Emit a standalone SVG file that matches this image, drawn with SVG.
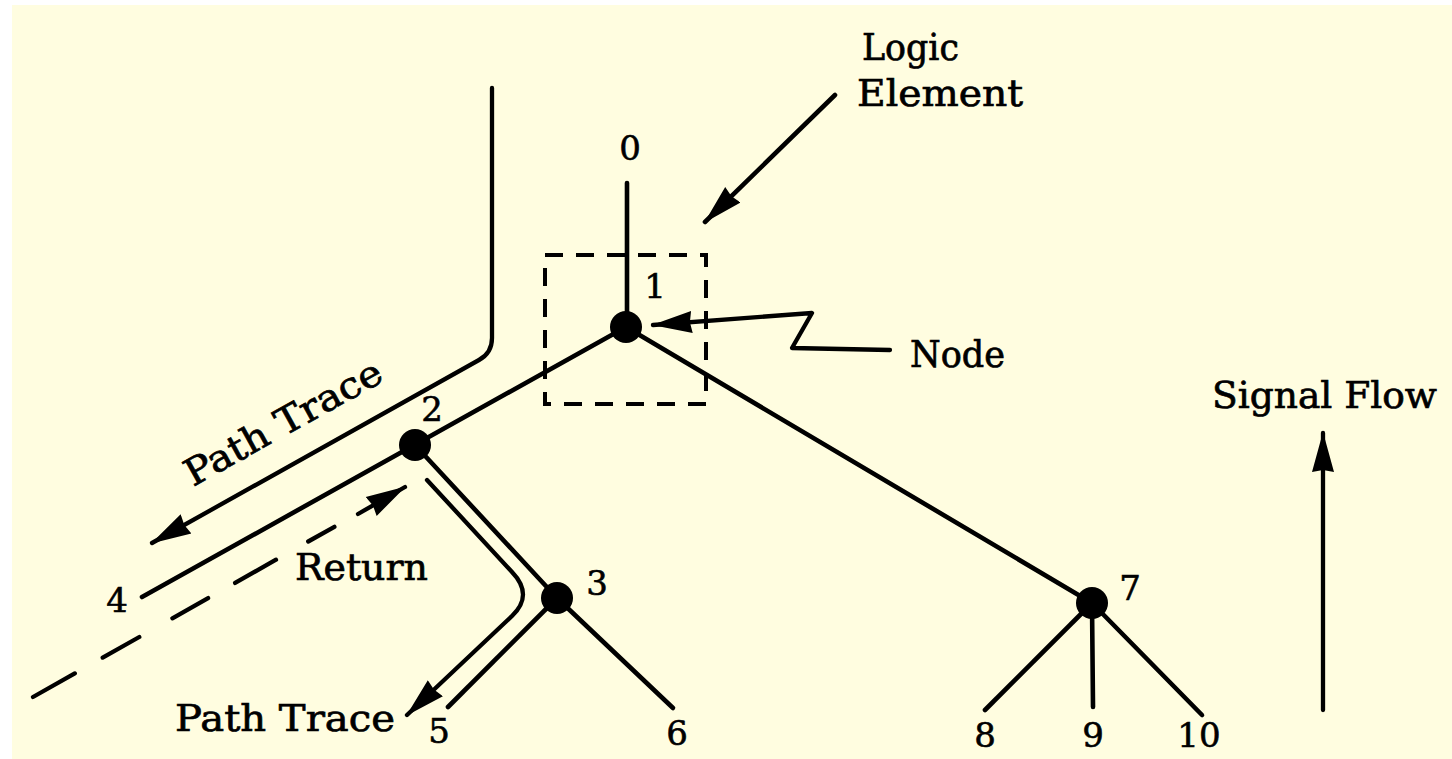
<svg xmlns="http://www.w3.org/2000/svg" width="1452" height="759" viewBox="0 0 1452 759">
<style>
  .ln { fill: none; stroke: #000; stroke-width: 4.6; stroke-linecap: round; stroke-linejoin: round; }
  .thin { stroke-width: 4.3; }
  .box { fill: none; stroke: #000; stroke-width: 4; stroke-dasharray: 18 13; }
  .nd { fill: #000; }
  .t { font-family: "DejaVu Serif", "Liberation Serif", serif; font-size: 37px; fill: #000; stroke: #000; stroke-width: 0.7; }
  .n { font-family: "DejaVu Serif", "Liberation Serif", serif; font-size: 34px; fill: #000; stroke: #000; stroke-width: 0.6; text-anchor: middle; }
</style>
<defs>
  <marker id="ah" viewBox="0 0 40 24" refX="39" refY="12" markerWidth="40" markerHeight="24" markerUnits="userSpaceOnUse" orient="auto">
    <path d="M0,1 L40,12 L0,23 L2,12 Z" fill="#000"/>
  </marker>
</defs>
<rect x="0" y="0" width="1452" height="759" fill="#ffffff"/>
<rect x="12" y="5" width="1440" height="754" fill="#fffde0"/>

<g id="connectors">
  <path class="ln" d="M627 183 L627 327"/>
  <path class="ln" d="M626 327 L142 597"/>
  <path class="ln" d="M415 445 L557 598"/>
  <path class="ln" d="M557 598 L448 707"/>
  <path class="ln" d="M557 598 L673 708"/>
  <path class="ln" d="M626 327 L1092 603"/>
  <path class="ln" d="M1092 603 L985 710"/>
  <path class="ln" d="M1092 603 L1093 707"/>
  <path class="ln" d="M1092 603 L1202 715"/>
</g>

<g id="logic-element-box">
  <rect class="box" x="545" y="255" width="161" height="149"/>
</g>

<g id="node-1"><circle class="nd" cx="626" cy="327" r="16"/><text class="n" x="655" y="298">1</text></g>
<g id="node-2"><circle class="nd" cx="415" cy="445" r="16"/><text class="n" x="432" y="421">2</text></g>
<g id="node-3"><circle class="nd" cx="557" cy="598" r="16"/><text class="n" x="597" y="595">3</text></g>
<g id="node-7"><circle class="nd" cx="1092" cy="603" r="16"/><text class="n" x="1130" y="600">7</text></g>
<g id="label-0"><text class="n" x="630" y="160">0</text></g>
<g id="label-4"><text class="n" x="117" y="612">4</text></g>
<g id="label-5"><text class="n" x="439" y="743">5</text></g>
<g id="label-6"><text class="n" x="677" y="745">6</text></g>
<g id="label-8"><text class="n" x="985" y="747">8</text></g>
<g id="label-9"><text class="n" x="1093" y="747">9</text></g>
<g id="label-10"><text class="n" x="1199" y="747">10</text></g>

<g id="path-trace-upper">
  <path class="ln thin" d="M492 88 L492 338 Q492 353 479 360 L152 543" marker-end="url(#ah)"/>
  <text class="t" x="193" y="487" transform="rotate(-29 193 487)" textLength="220" lengthAdjust="spacingAndGlyphs">Path Trace</text>
</g>

<g id="return">
  <path class="ln thin" d="M33 697 L74.8 673.4 M102.7 657.6 L139.3 637 M172.4 618.3 L208.1 598.1 M235.1 582.9 L276 559.7 M308.2 541.5 L334.4 526.8"/>
  <path class="ln thin" d="M358 514 L405 487" marker-end="url(#ah)"/>
  <text class="t" x="295" y="580" textLength="133" lengthAdjust="spacingAndGlyphs">Return</text>
</g>

<g id="path-trace-lower">
  <path class="ln thin" d="M427 480 L512 572 Q534 595 512 616 L407 715" marker-end="url(#ah)"/>
  <text class="t" x="175" y="731" textLength="220" lengthAdjust="spacingAndGlyphs">Path Trace</text>
</g>

<g id="logic-element-label">
  <path class="ln" d="M835 95 L705 222" marker-end="url(#ah)"/>
  <text class="t" x="862" y="60" textLength="97" lengthAdjust="spacingAndGlyphs">Logic</text>
  <text class="t" x="857" y="106" textLength="166" lengthAdjust="spacingAndGlyphs">Element</text>
</g>

<g id="node-label">
  <path class="ln thin" d="M890 350 L792 348 L812 313 L653 325" marker-end="url(#ah)"/>
  <text class="t" x="910" y="367" textLength="95" lengthAdjust="spacingAndGlyphs">Node</text>
</g>

<g id="signal-flow">
  <path class="ln thin" d="M1323 710 L1323 433" marker-end="url(#ah)"/>
  <text class="t" x="1212" y="408" textLength="225" lengthAdjust="spacingAndGlyphs">Signal Flow</text>
</g>
</svg>
